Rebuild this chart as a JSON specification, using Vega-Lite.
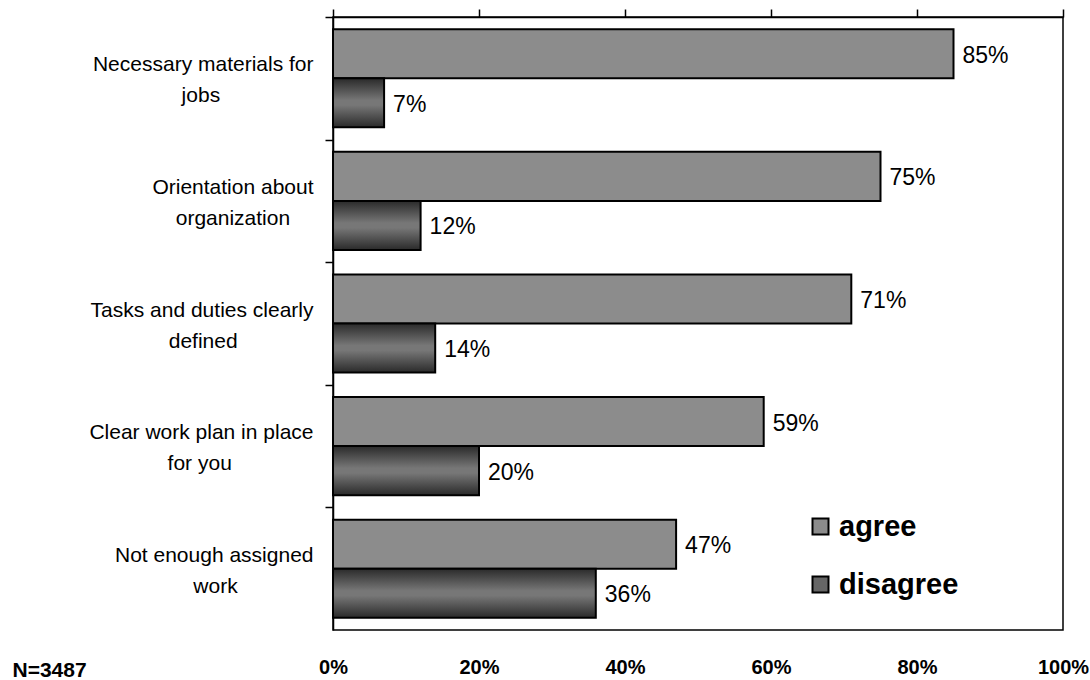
{
  "$schema": "https://vega.github.io/schema/vega-lite/v6.json",
  "width": 730,
  "height": 613,
  "autosize": {"type": "none"},
  "padding": {"left": 333, "top": 17, "right": 27, "bottom": 50},
  "background": "white",
  "config": {"view": {"stroke": "black", "strokeWidth": 1.5}, "font": "Liberation Sans"},
  "data": {
    "values": [
      {"item": "Necessary materials for jobs", "series": "agree", "value": 0.85},
      {"item": "Necessary materials for jobs", "series": "disagree", "value": 0.07},
      {"item": "Orientation about organization", "series": "agree", "value": 0.75},
      {"item": "Orientation about organization", "series": "disagree", "value": 0.12},
      {"item": "Tasks and duties clearly defined", "series": "agree", "value": 0.71},
      {"item": "Tasks and duties clearly defined", "series": "disagree", "value": 0.14},
      {"item": "Clear work plan in place for you", "series": "agree", "value": 0.59},
      {"item": "Clear work plan in place for you", "series": "disagree", "value": 0.20},
      {"item": "Not enough assigned work", "series": "agree", "value": 0.47},
      {"item": "Not enough assigned work", "series": "disagree", "value": 0.36}
    ]
  },
  "encoding": {
    "y": {
      "field": "item", "type": "nominal", "sort": null,
      "scale": {"paddingInner": 0, "paddingOuter": 0},
      "axis": {
        "title": null, "domain": true, "domainColor": "black", "domainWidth": 1.5,
        "ticks": true, "tickSize": 8, "tickColor": "black", "tickWidth": 1.5, "tickOffset": -61.3,
        "labelExpr": "datum.value === 'Necessary materials for jobs' ? ['Necessary materials for', pad('jobs', 20, '\u00a0', 'right') + '\u200b'] : datum.value === 'Orientation about organization' ? ['Orientation about', pad('organization', 16, '\u00a0', 'right') + '\u200b'] : datum.value === 'Tasks and duties clearly defined' ? ['Tasks and duties clearly', pad('defined', 20, '\u00a0', 'right') + '\u200b'] : datum.value === 'Clear work plan in place for you' ? ['Clear work plan in place', pad('for you', 21, '\u00a0', 'right') + '\u200b'] : ['Not enough assigned', pad('work', 17, '\u00a0', 'right') + '\u200b']",
        "labelAlign": "right", "labelBaseline": "middle", "labelOffset": 47.8,
        "labelFont": "Liberation Sans", "labelFontSize": 21, "labelLineHeight": 31, "labelLimit": 0,
        "labelColor": "black", "labelPadding": 12
      }
    },
    "yOffset": {
      "field": "series", "type": "nominal", "sort": ["agree", "disagree"],
      "scale": {"paddingInner": 0, "paddingOuter": 0.25}
    }
  },
  "layer": [
    {
      "mark": {"type": "bar", "stroke": "black", "strokeWidth": 2},
      "encoding": {
        "x": {
          "field": "value", "type": "quantitative",
          "scale": {"domain": [0, 1]},
          "axis": {
            "orient": "top", "title": null, "labels": false, "grid": false,
            "values": [0, 0.2, 0.4, 0.6, 0.8, 1],
            "domain": true, "domainColor": "black", "domainWidth": 1.5,
            "ticks": true, "tickSize": 8, "tickColor": "black", "tickWidth": 1.5
          }
        },
        "color": {
          "condition": {
            "test": "datum.series === 'disagree'",
            "value": {
              "gradient": "linear", "x1": 0, "y1": 0, "x2": 0, "y2": 1,
              "stops": [
                {"offset": 0, "color": "#2a2a2a"},
                {"offset": 0.45, "color": "#777777"},
                {"offset": 0.55, "color": "#777777"},
                {"offset": 1, "color": "#2a2a2a"}
              ]
            }
          },
          "field": "series", "type": "nominal",
          "scale": {"domain": ["agree", "disagree"], "range": ["#8c8c8c", "#666666"]},
          "legend": {
            "orient": "none", "legendX": 473, "legendY": 495, "title": null,
            "symbolType": "square", "symbolSize": 256, "symbolStrokeColor": "black", "symbolStrokeWidth": 2,
            "labelFont": "Liberation Sans", "labelFontWeight": "bold", "labelFontSize": 29,
            "labelColor": "black", "labelOffset": 4, "rowPadding": 28
          }
        }
      }
    },
    {
      "mark": {"type": "text", "align": "left", "baseline": "middle", "dx": 9, "dy": 2, "fontSize": 23, "font": "Liberation Sans", "color": "black"},
      "encoding": {
        "x": {
          "field": "value", "type": "quantitative",
          "axis": {
            "orient": "bottom", "grid": false, "domain": false, "ticks": false,
            "values": [0, 0.2, 0.4, 0.6, 0.8, 1], "format": ".0%",
            "labelFont": "Liberation Sans", "labelFontWeight": "bold", "labelFontSize": 20,
            "labelColor": "black", "labelPadding": 27, "labelFlush": false,
            "title": "N=3487", "titleX": -321, "titleY": 46, "titleAlign": "left", "titleAnchor": "start",
            "titleBaseline": "alphabetic",
            "titleFont": "Liberation Sans", "titleFontWeight": "bold", "titleFontSize": 21, "titleColor": "black"
          }
        },
        "text": {"field": "value", "type": "quantitative", "format": ".0%"}
      }
    }
  ]
}
